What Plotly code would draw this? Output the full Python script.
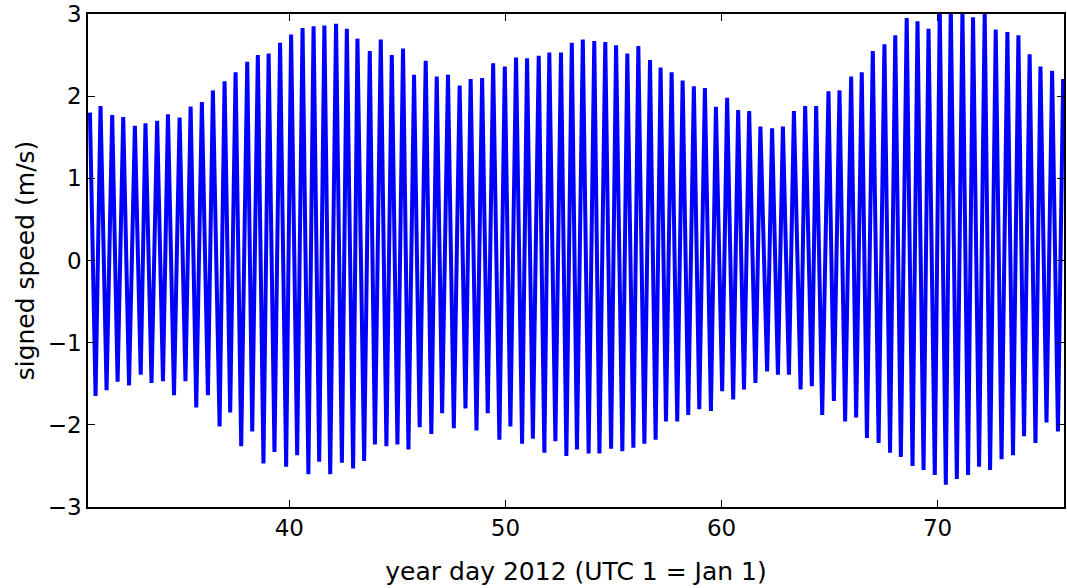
import plotly.graph_objects as go

# Times (year day 2012) and values of each flood peak (m/s)
high_days = [
    30.77, 31.26, 31.80, 32.31, 32.85, 33.34, 33.88, 34.38, 34.92, 35.43, 35.95,
    36.46, 37.00, 37.51, 38.05, 38.54, 39.04, 39.57, 40.08, 40.61, 41.12, 41.62,
    42.16, 42.66, 43.15, 43.72, 44.23, 44.74, 45.26, 45.77, 46.31, 46.82, 47.34,
    47.88, 48.39, 48.92, 49.43, 49.97, 50.49, 51.00, 51.54, 52.03, 52.57, 53.07,
    53.58, 54.11, 54.62, 55.12, 55.64, 56.15, 56.69, 57.18, 57.69, 58.20, 58.72,
    59.23, 59.74, 60.26, 60.77, 61.28, 61.80, 62.34, 62.84, 63.35, 63.87, 64.38,
    64.95, 65.46, 66.00, 66.49, 67.00, 67.54, 68.04, 68.57, 69.07, 69.58, 70.10,
    70.61, 71.15, 71.64, 72.18, 72.69, 73.23, 73.74, 74.26, 74.76, 75.30, 75.81,
]
high_speed = [
    1.80, 1.88, 1.77, 1.745, 1.64, 1.67, 1.70, 1.78, 1.74, 1.875, 1.93,
    2.07, 2.18, 2.29, 2.42, 2.50, 2.52, 2.65, 2.75, 2.83, 2.85, 2.86,
    2.88, 2.82, 2.70, 2.55, 2.69, 2.50, 2.58, 2.26, 2.43, 2.24, 2.26,
    2.13, 2.21, 2.22, 2.40, 2.36, 2.47, 2.46, 2.49, 2.53, 2.53, 2.65,
    2.69, 2.67, 2.66, 2.62, 2.52, 2.61, 2.44, 2.35, 2.29, 2.19, 2.12,
    2.10, 1.87, 1.98, 1.83, 1.82, 1.63, 1.61, 1.63, 1.82, 1.88, 1.88,
    2.06, 2.07, 2.24, 2.29, 2.55, 2.63, 2.74, 2.95, 2.91, 2.82, 3.05,
    3.10, 3.05, 2.96, 3.02, 2.81, 2.78, 2.74, 2.51, 2.36, 2.31, 2.21,
]

# Times and values of each ebb peak (m/s)
low_days = [
    31.03, 31.54, 32.05, 32.58, 33.12, 33.62, 34.15, 34.66, 35.19, 35.69, 36.23,
    36.77, 37.26, 37.77, 38.28, 38.80, 39.31, 39.85, 40.36, 40.88, 41.38, 41.89,
    42.43, 42.95, 43.46, 43.96, 44.49, 45.00, 45.51, 46.03, 46.57, 47.07, 47.61,
    48.15, 48.66, 49.18, 49.72, 50.23, 50.77, 51.27, 51.80, 52.31, 52.82, 53.31,
    53.85, 54.35, 54.89, 55.41, 55.92, 56.43, 56.95, 57.43, 57.95, 58.46, 58.97,
    59.51, 60.03, 60.54, 61.04, 61.57, 62.11, 62.61, 63.12, 63.66, 64.18, 64.66,
    65.20, 65.72, 66.23, 66.73, 67.27, 67.80, 68.30, 68.84, 69.35, 69.87, 70.38,
    70.89, 71.41, 71.92, 72.43, 72.96, 73.49, 74.00, 74.53, 75.04, 75.57,
]
low_speed = [
    -1.65, -1.58, -1.475, -1.52, -1.39, -1.49, -1.47, -1.64, -1.47, -1.79, -1.64,
    -2.02, -1.85, -2.26, -2.08, -2.47, -2.33, -2.51, -2.37, -2.60, -2.45, -2.60,
    -2.46, -2.53, -2.44, -2.24, -2.26, -2.24, -2.30, -2.03, -2.11, -1.86, -2.04,
    -1.80, -2.07, -1.86, -2.18, -2.02, -2.23, -2.17, -2.34, -2.20, -2.38, -2.30,
    -2.35, -2.35, -2.29, -2.32, -2.28, -2.23, -2.18, -1.96, -1.96, -1.88, -1.81,
    -1.83, -1.59, -1.69, -1.57, -1.49, -1.35, -1.39, -1.39, -1.57, -1.53, -1.88,
    -1.71, -1.96, -1.91, -2.16, -2.22, -2.34, -2.39, -2.50, -2.55, -2.61, -2.73,
    -2.66, -2.61, -2.51, -2.55, -2.42, -2.37, -2.14, -2.22, -1.97, -2.08,
]

x_ticks = [40, 50, 60, 70]
y_ticks = [-3, -2, -1, 0, 1, 2, 3]

# Merge flood and ebb extremes into one time series
series = sorted(zip(high_days + low_days, high_speed + low_speed))
t = [p[0] for p in series]
v = [p[1] for p in series]

fig = go.Figure(
    go.Scatter(
        x=t, y=v, mode="lines",
        line=dict(color="#0000ff", width=4),
        showlegend=False,
    )
)

tick_font = dict(family="DejaVu Sans", size=23, color="black")
title_font = dict(family="DejaVu Sans", size=25, color="black")
axis_common = dict(
    showline=True, linecolor="black", linewidth=1.5, mirror="ticks",
    ticks="inside", ticklen=7, tickwidth=1, tickcolor="black",
    showgrid=False, zeroline=False, tickfont=tick_font,
)

fig.update_layout(
    width=1067, height=588,
    margin=dict(l=88, r=1, t=13, b=81),
    paper_bgcolor="white", plot_bgcolor="white",
    font=tick_font,
    xaxis=dict(
        range=[30.68, 75.85], tickvals=x_ticks,
        title=dict(text="year day 2012 (UTC 1 = Jan 1)", font=title_font, standoff=22),
        **axis_common,
    ),
    yaxis=dict(
        range=[-3, 3], tickvals=y_ticks,
        title=dict(text="signed speed (m/s)", font=title_font, standoff=6),
        **axis_common,
    ),
)

fig.write_html("out.html")
